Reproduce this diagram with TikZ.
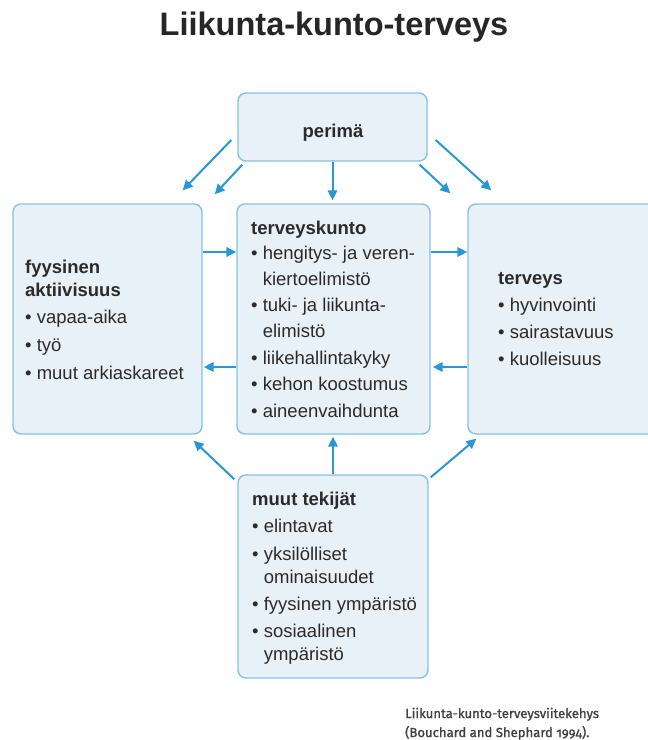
\documentclass[tikz,border=0pt]{standalone}
\usepackage{fontspec}
\setmainfont{Liberation Sans}
\newfontfamily\capfont[Numbers=OldStyle,FakeBold=1.2]{Fira Sans}
\usetikzlibrary{arrows.meta}
\definecolor{boxfill}{HTML}{E8F0F8}
\definecolor{boxline}{HTML}{86C3DF}
\definecolor{arr}{HTML}{2A97D4}
\definecolor{txt}{HTML}{2B2B2B}
\newcommand\bul{\textbullet\ }
\newcommand\cont{\phantom{\textbullet\ }}
\begin{document}
\begin{tikzpicture}[x=1pt,y=-1pt,
  box/.style={draw=boxline, line width=1.4pt, fill=boxfill, rounded corners=8pt, inner sep=0pt},
  conn/.style={draw=arr, line width=2pt, -{Triangle[length=10pt,width=9.5pt]}},
  ln/.style={anchor=base west, inner sep=0pt, text=txt, font=\fontsize{18.5}{22}\selectfont},
  hd/.style={anchor=base west, inner sep=0pt, text=txt, font=\fontsize{18.5}{22}\selectfont\bfseries}]
\useasboundingbox (0,0) rectangle (648,740);
\clip (0,0) rectangle (648,740);
\fill[white] (0,0) rectangle (648,740);

% title
\node[anchor=base, inner sep=0pt, text=black!85, font=\fontsize{32.5}{36}\selectfont\bfseries] (title) at (334,35) {Liikunta-kunto-terveys};

% boxes
\node[box, minimum width=189pt, minimum height=68pt] (P) at (332.5,127) {};
\node[box, minimum width=189pt, minimum height=230pt] (L) at (107.5,319) {};
\node[box, minimum width=193pt, minimum height=230pt] (C) at (333.5,319) {};
\node[box, minimum width=200pt, minimum height=230pt] (R) at (568,319) {};
\node[box, minimum width=190pt, minimum height=203pt] (B) at (333,576.5) {};

% texts
\node[hd, anchor=base] (p1) at (333,137) {perimä};

\node[hd] (l1) at (25,273) {fyysinen};
\node[hd] (l2) at (25,296) {aktiivisuus};
\node[ln] (l3) at (25,323) {\bul vapaa-aika};
\node[ln] (l4) at (25,351) {\bul työ};
\node[ln] (l5) at (25,379) {\bul muut arkiaskareet};

\node[hd] (c1) at (251,234) {terveyskunto};
\node[ln] (c2) at (251,259) {\bul hengitys- ja veren-};
\node[ln] (c3) at (251,285) {\cont kiertoelimistö};
\node[ln] (c4) at (251,311) {\bul tuki- ja liikunta-};
\node[ln] (c5) at (251,337) {\cont elimistö};
\node[ln] (c6) at (251,364) {\bul liikehallintakyky};
\node[ln] (c7) at (251,390) {\bul kehon koostumus};
\node[ln] (c8) at (251,417) {\bul aineenvaihdunta};

\node[hd] (r1) at (498,284) {terveys};
\node[ln] (r2) at (498,311) {\bul hyvinvointi};
\node[ln] (r3) at (498,338) {\bul sairastavuus};
\node[ln] (r4) at (498,365) {\bul kuolleisuus};

\node[hd] (b1) at (252,505) {muut tekijät};
\node[ln] (b2) at (252,532) {\bul elintavat};
\node[ln] (b3) at (252,560) {\bul yksilölliset};
\node[ln] (b4) at (252,583) {\cont ominaisuudet};
\node[ln] (b5) at (252,610) {\bul fyysinen ympäristö};
\node[ln] (b6) at (252,637) {\bul sosiaalinen};
\node[ln] (b7) at (252,660) {\cont ympäristö};

% caption
\node[anchor=base west, inner sep=0pt, text=black!75, font=\capfont\fontsize{13.1}{16}\selectfont] (cap1) at (405,718) {Liikunta-kunto-terveysviitekehys};
\node[anchor=base west, inner sep=0pt, text=black!75, font=\capfont\fontsize{13.1}{16}\selectfont] (cap2) at (405,737) {(Bouchard and Shephard 1994).};

% connectors
\draw[conn] ([shift={(-6,13)}]P.west) -- ([shift={(-20,-13)}]L.north east);
\draw[conn] ([shift={(5,3)}]P.south west) -- ([shift={(12,-9)}]L.north east);
\draw[conn] ([shift={(-8,3)}]P.south east) -- ([shift={(-17,-10)}]R.north west);
\draw[conn] ([shift={(8,13)}]P.east) -- ([shift={(24,-13)}]R.north west);
\draw[conn, shorten >=3pt] (P.south) -- (P.south |- C.north);

\draw[conn] ([shift={(0,-67)}]L.east) -- ([shift={(0,-67)}]C.west);
\draw[conn] ([shift={(0,48)}]C.west) -- ([shift={(1,48)}]L.east);
\draw[conn] ([shift={(0,-67)}]C.east) -- ([shift={(0,-67)}]R.west);
\draw[conn] ([shift={(0,48)}]R.west) -- ([shift={(2,48)}]C.east);

\draw[conn, shorten >=2pt] (B.north) -- (B.north |- C.south);
\draw[conn] ([shift={(-3,5)}]B.north west) -- ([shift={(-9,6)}]L.south east);
\draw[conn] ([shift={(2,3)}]B.north east) -- ([shift={(9,4)}]R.south west);
\end{tikzpicture}
\end{document}
